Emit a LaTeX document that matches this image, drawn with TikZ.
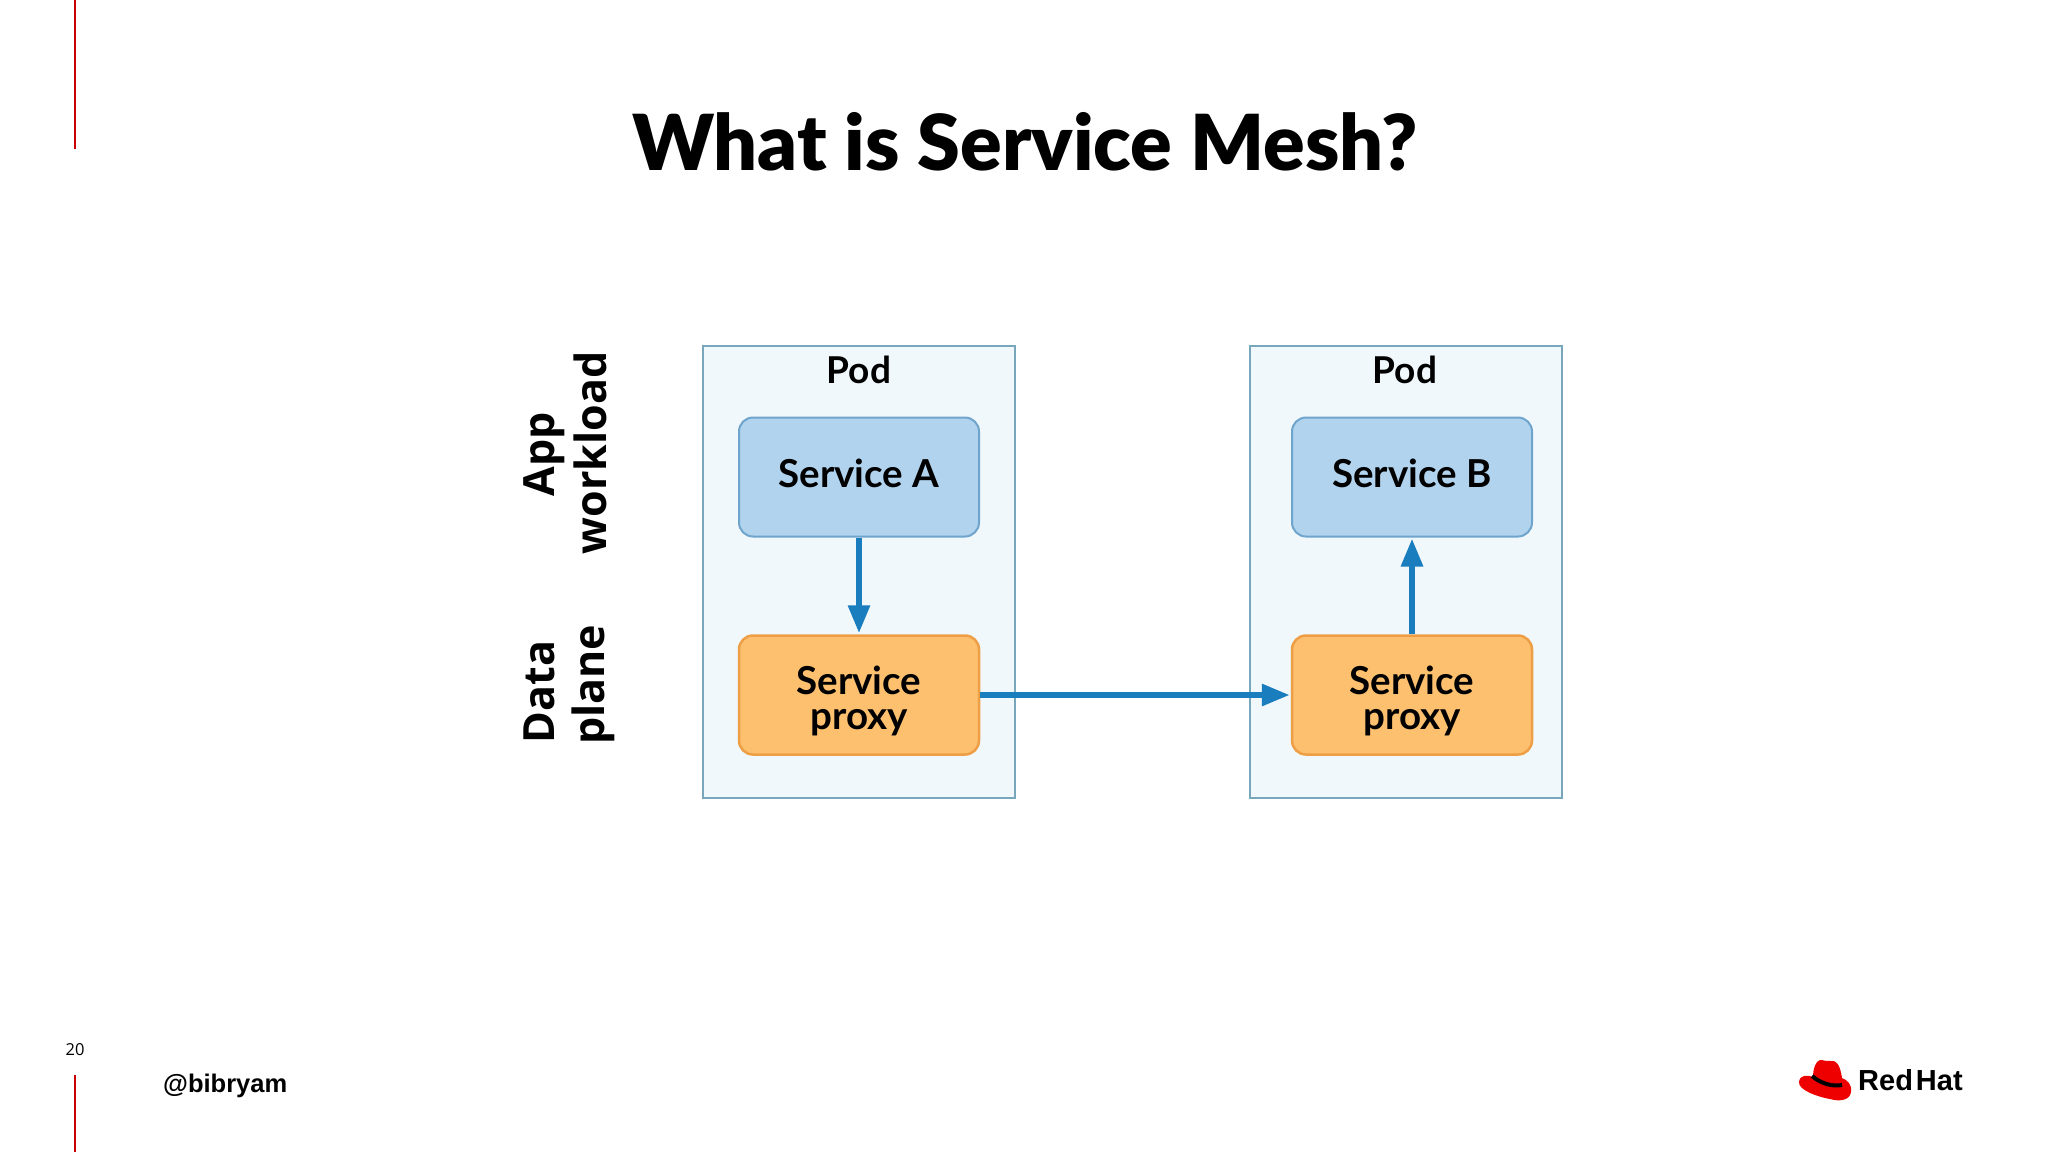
\documentclass[tikz,border=0pt]{standalone}
\usepackage{fontspec}
\setmainfont{Open Sans}
\newfontfamily\titlefont{Lato}[UprightFont=* Black]
\newfontfamily\labelfont{Lato}[UprightFont=* Bold]
\newfontfamily\sidefont{Open Sans}[UprightFont=* Bold]
\newfontfamily\footfont{Liberation Sans}[UprightFont=* Bold]
\newfontfamily\logofont{Liberation Sans}[UprightFont=* Bold]
\usetikzlibrary{arrows.meta,calc}
\definecolor{rhred}{HTML}{EE0000}
\definecolor{podfill}{HTML}{F1F8FC}
\definecolor{podline}{HTML}{78A6BA}
\definecolor{svcfill}{HTML}{B1D3EE}
\definecolor{svcline}{HTML}{6FA5CC}
\definecolor{proxyfill}{HTML}{FCC06F}
\definecolor{proxyline}{HTML}{EE9F45}
\definecolor{flow}{HTML}{1A7DBD}
\tikzset{
  x=1pt,y=-1pt,
  pod/.style={draw=podline,fill=podfill,line width=1.3pt,minimum width=312pt,minimum height=452pt,inner sep=0pt},
  svcbox/.style={draw=svcline,fill=svcfill,line width=2pt,rounded corners=14pt,minimum width=240pt,minimum height=119pt,inner sep=0pt,align=center,font=\labelfont\fontsize{38.5}{35}\selectfont,text=black},
  proxybox/.style={svcbox,draw=proxyline,fill=proxyfill,line width=2.5pt},
  podlabel/.style={font=\labelfont\fontsize{37}{35}\selectfont,inner sep=0pt},
  sidelabel/.style={rotate=90,anchor=base,font=\sidefont\fontsize{43}{50}\selectfont,inner sep=0pt},
  flowline/.style={draw=flow,line width=6pt,-{Triangle[length=28pt,width=21pt]},shorten >=1pt},
  redrule/.style={draw=rhred!85!black,line width=1.6pt},
}
\begin{document}
\begin{tikzpicture}
\useasboundingbox (0,0) rectangle (2048,1152);
\fill[white] (0,0) rectangle (2048,1152);
\coordinate (r1a) at (75,0); \coordinate (r1b) at (75,149);
\coordinate (r2a) at (75,1075); \coordinate (r2b) at (75,1152);
\draw[redrule] (r1a) -- (r1b);
\draw[redrule] (r2a) -- (r2b);
\node[font=\titlefont\fontsize{77.3}{90}\selectfont,inner sep=0pt] (title) at (1025,142) {What is Service Mesh?};
\node[pod] (pod1) at (859,572) {};
\node[pod] (pod2) at (1406,572) {};
\node[podlabel] (pod1l) at (859,370) {Pod};
\node[podlabel] (pod2l) at (1405,370) {Pod};
\node[svcbox] (sa) at (859,477) {\raisebox{8pt}{Service A}};
\node[svcbox] (sb) at (1412,477) {\raisebox{8pt}{Service B}};
\node[proxybox] (pa) at (859,695) {\raisebox{-14pt}[0pt][0pt]{\begin{tabular}{@{}c@{}}Service\\proxy\end{tabular}}};
\node[proxybox] (pb) at (1412,695) {\raisebox{-14pt}[0pt][0pt]{\begin{tabular}{@{}c@{}}Service\\proxy\end{tabular}}};
\draw[flowline] (sa) -- (pa);
\draw[flowline] (pb) -- (sb);
\draw[flowline] (pa) -- (pb);
\node[sidelabel] (app) at (554,454) {App};
\node[sidelabel] (workload) at (606,453) {workload};
\node[sidelabel] (data) at (554,692) {Data};
\node[sidelabel] (plane) at (604,685) {plane};
\node[font=\fontsize{16.5}{18}\selectfont,inner sep=0pt] (num) at (75,1050) {20};
\node[font=\footfont\fontsize{25.5}{30}\selectfont,anchor=west,inner sep=0pt] (handle) at (163,1086) {@bibryam};
\node[font=\logofont\fontsize{29}{30}\selectfont,anchor=west,inner sep=0pt] (rh) at (1858,1080) {Red\hspace{3pt}Hat};
% hat
\fill[rhred] (1799,1082) .. controls (1800,1074) and (1808,1075) .. (1813,1077)
  .. controls (1813,1068) and (1816,1061) .. (1820,1060)
  .. controls (1825,1060) and (1827,1062) .. (1831,1061)
  .. controls (1836,1060) and (1840,1064) .. (1842,1078)
  .. controls (1847,1080) and (1852,1084) .. (1851,1092)
  .. controls (1850,1100) and (1840,1102) .. (1830,1099)
  .. controls (1818,1097) and (1798,1090) .. (1799,1082) -- cycle;
\draw[black,line width=4pt] (1812,1076) .. controls (1820,1083) and (1832,1087) .. (1842,1085);
\end{tikzpicture}
\end{document}
